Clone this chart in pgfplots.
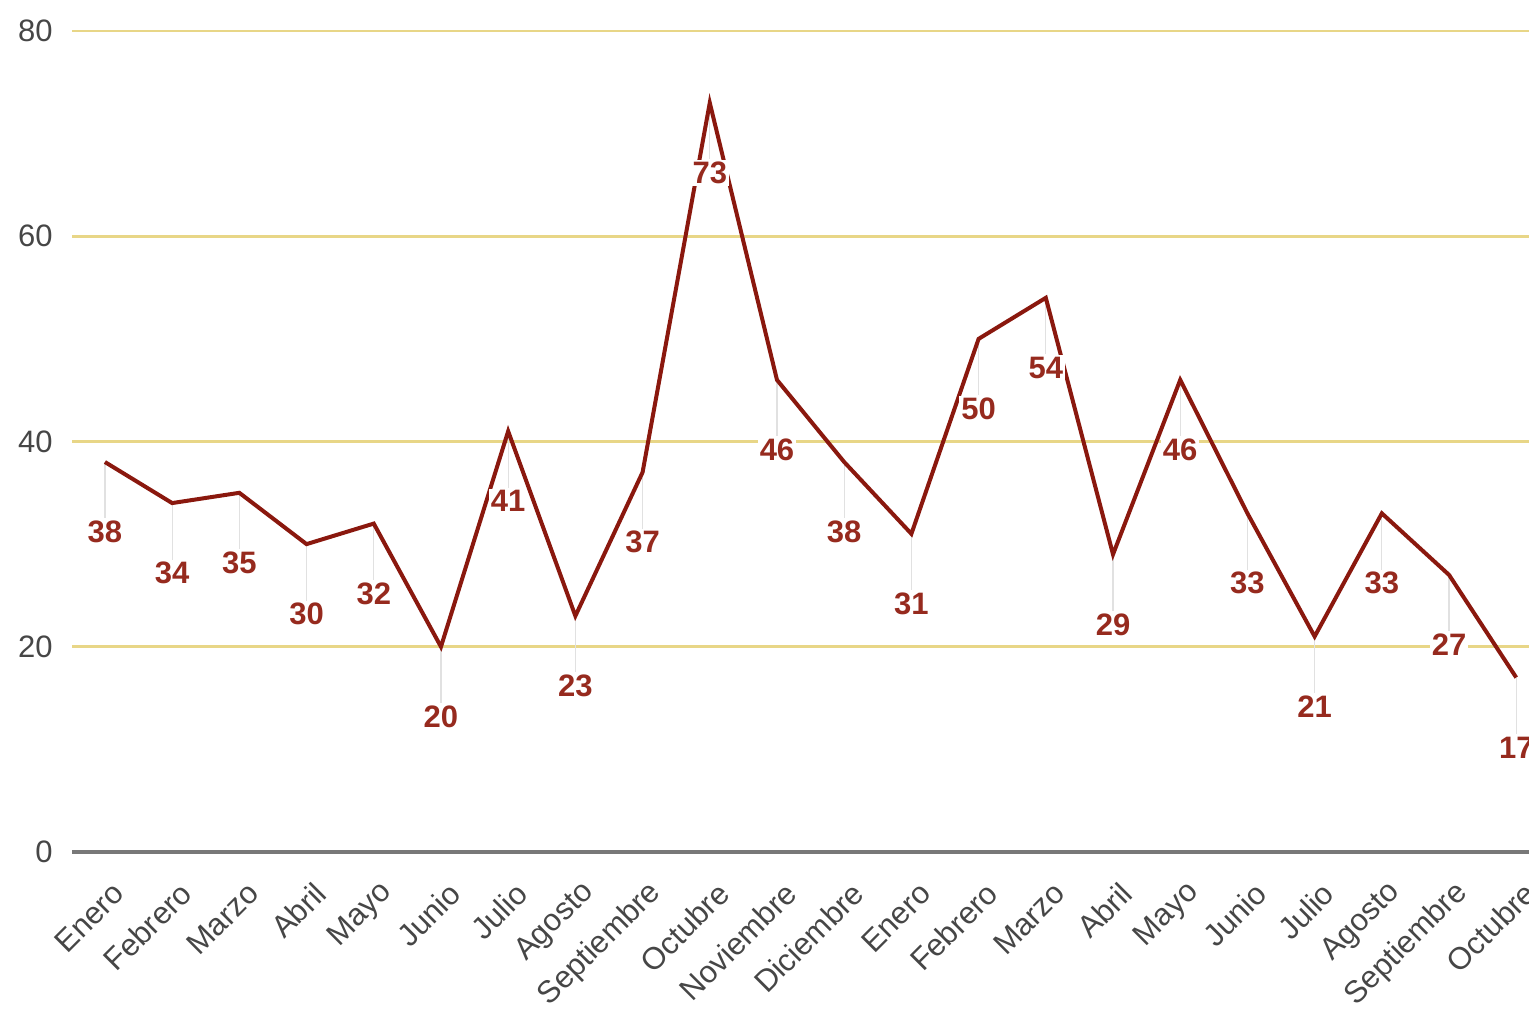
\documentclass[border=0pt]{standalone}
\usepackage{pgfplots}
\pgfplotsset{compat=1.18}
\usepackage{fontspec}
\setmainfont{Liberation Sans}
\definecolor{gridc}{RGB}{232,214,135}
\definecolor{zeroc}{RGB}{120,120,120}
\definecolor{linec}{RGB}{138,24,14}
\definecolor{labc}{RGB}{150,42,30}
\definecolor{tickc}{RGB}{70,70,70}
\definecolor{leadc}{RGB}{225,225,225}
\pgfplotstableread{
x y
0 38
1 34
2 35
3 30
4 32
5 20
6 41
7 23
8 37
9 73
10 46
11 38
12 31
13 50
14 54
15 29
16 46
17 33
18 21
19 33
20 27
21 17
}\datatable
\begin{document}
\begin{tikzpicture}
\begin{axis}[
  scale only axis, width=728.5pt, height=410.5pt,
  xmin=-0.49, xmax=21.19, ymin=0, ymax=80,
  axis line style={draw=none},
  major tick length=0pt,
  ytick={20,40,60,80}, extra y ticks={0},
  ymajorgrids,
  major grid style={color=gridc, line width=1.3pt},
  extra y tick style={major grid style={color=zeroc, line width=1.6pt}},
  xtick={0,...,21},
  xticklabels={Enero,Febrero,Marzo,Abril,Mayo,Junio,Julio,Agosto,Septiembre,Octubre,Noviembre,Diciembre,Enero,Febrero,Marzo,Abril,Mayo,Junio,Julio,Agosto,Septiembre,Octubre},
  xticklabel style={xshift=7pt, yshift=-18pt, rotate=45, anchor=east, inner sep=0pt, font=\fontsize{15.5}{15.5}\selectfont, text=tickc},
  yticklabel style={anchor=east, inner sep=0pt, xshift=-9.5pt, font=\fontsize{15.5}{15.5}\selectfont, text=tickc},
  /pgf/number format/assume math mode=true,
  clip=false,
]
\addplot[draw=none, forget plot, error bars/.cd, y dir=minus, y fixed=5.5, error mark=none, error bar style={color=leadc, line width=0.6pt}] table[x=x,y=y] {\datatable};
\addplot[color=linec, line width=2pt, mark=none,
  nodes near coords,
  every node near coord/.append style={anchor=center, yshift=-35pt, fill=white, inner sep=1pt, font=\fontsize{15.5}{15.5}\selectfont\bfseries, text=labc}]
  table[x=x,y=y] {\datatable};
\coordinate (SW) at (rel axis cs:0,0);
\coordinate (NE) at (rel axis cs:1,1);
\end{axis}
\pgfresetboundingbox
\path[use as bounding box] ([xshift=-36pt,yshift=-82.5pt]SW) rectangle ([yshift=15.5pt]NE);
\end{tikzpicture}
\end{document}
